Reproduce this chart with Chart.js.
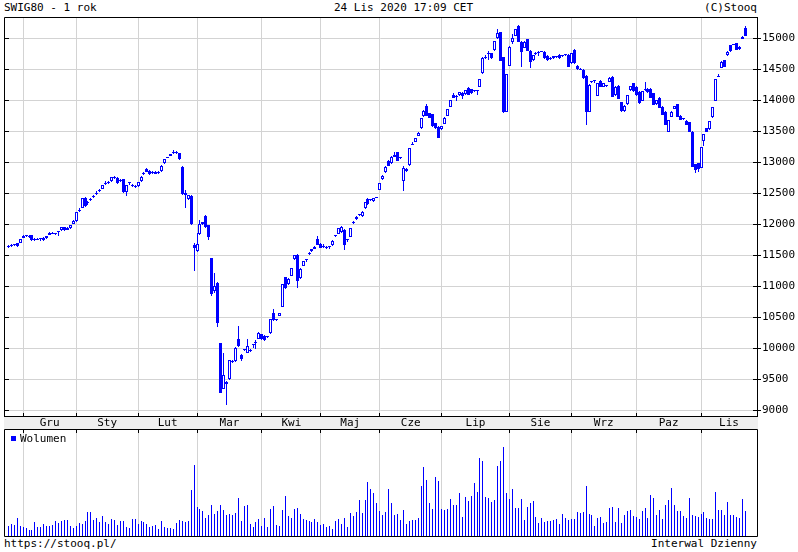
<!DOCTYPE html>
<html>
<head>
<meta charset="utf-8">
<title>SWIG80 - 1 rok</title>
<script src="https://cdn.jsdelivr.net/npm/chart.js@4.4.1/dist/chart.umd.min.js"></script>
<style>
  html, body { margin: 0; padding: 0; background: #fff; }
  body { width: 798px; height: 552px; position: relative; overflow: hidden;
         font: 11px "DejaVu Sans Mono", monospace; color: #000; }
  .txt { position: absolute; white-space: pre; line-height: 13px; }
  canvas { position: absolute; left: 0; }
  .sq { position: absolute; left: 11px; top: 436px; width: 5px; height: 5px; background: #0000ff; }
</style>
</head>
<body>
<div class="txt" style="left:4px; top:1px">SWIG80 - 1 rok</div>
<div class="txt" style="left:334px; top:1px">24 Lis 2020 17:09 CET</div>
<div class="txt" style="right:41px; top:1px">(C)Stooq</div>
<canvas id="price" width="798" height="429" style="top:0"></canvas>
<canvas id="volume" width="798" height="108" style="top:429px"></canvas>
<div class="sq"></div>
<div class="txt" style="left:20px; top:432px">Wolumen</div>
<div class="txt" style="left:4px; top:537px">https://stooq.pl/</div>
<div class="txt" style="right:41px; top:537px">Interwal Dzienny</div>

<script>
// daily sessions 25 Nov 2019 .. 24 Nov 2020, index 0..250
const monthLabels = ['Gru', 'Sty', 'Lut', 'Mar', 'Kwi', 'Maj', 'Cze', 'Lip', 'Sie', 'Wrz', 'Paz', 'Lis'];
const monthStarts = [5, 23, 44, 64, 86, 106, 126, 147, 170, 191, 213, 235]; // first session of each month
const priceTicks = [9000, 9500, 10000, 10500, 11000, 11500, 12000, 12500, 13000, 13500, 14000, 14500, 15000];

const opens = [
  11640, 11655, 11668, 11695, 11705,
  11790, 11815, 11805, 11828, 11770, 11765, 11760, 11778, 11782, 11835, 11860, 11852, 11875, 11905, 11957, 11915, 11945, 12012,
  12054, 12225, 12270, 12435, 12340, 12395, 12440, 12495, 12535, 12580, 12660, 12670, 12700, 12760, 12745, 12700, 12726, 12525, 12665, 12630, 12612,
  12615, 12695, 12815, 12900, 12866, 12840, 12848, 12830, 12858, 12985, 13075, 13108, 13150, 13175, 13151, 12930, 12510, 12414, 12465, 11665,
  11570, 11840, 12000, 12145, 11984, 11452, 10925, 11060, 10081, 9350, 9460, 9500, 9790, 9796, 10145, 9903, 9975, 9930, 9960, 10050, 10090, 10156,
  10228, 10206, 10185, 10244, 10577, 10455, 10529, 10674, 11147, 11035, 11174, 11440, 11508, 11130, 11335, 11420, 11530, 11565, 11642, 11766,
  11685, 11660, 11630, 11630, 11669, 11810, 11852, 11880, 11911, 11750, 11803, 12030, 12088, 12150, 12131, 12260, 12411, 12390, 12379, 12430,
  12556, 12734, 12841, 13029, 12986, 13120, 13164, 13075, 12706, 12895, 12959, 13290, 13336, 13432, 13551, 13750, 13917, 13793, 13782, 13631, 13578,
  13535, 13626, 13755, 13900, 14089, 14050, 14090, 14120, 14105, 14207, 14180, 14148, 14155, 14223, 14438, 14690, 14755, 14761, 14814, 15003, 15099, 14696, 13820,
  14562, 14938, 15046, 15202, 14949, 14852, 14987, 14798, 14653, 14750, 14770, 14790, 14788, 14720, 14675, 14680, 14705, 14734, 14715, 14730, 14734,
  14600, 14814, 14560, 14505, 14500, 14400, 13820, 14295, 14310, 14072, 14315, 14223, 14230, 14303, 14384, 14089, 14239, 13970, 13830, 13938, 14169, 14277,
  14223, 14142, 13992, 14165, 14190, 14190, 14115, 13938, 14046, 13900, 13820, 13497, 13739, 13863, 13938, 13750, 13700, 13669, 13648, 13497, 12970, 12986,
  12916, 13346, 13551, 13540, 13728, 13997, 14380, 14529, 14653, 14734, 14895, 14900, 14922, 14830, 14992, 15175
];
const highs = [
  11670, 11685, 11690, 11705, 11765,
  11830, 11832, 11830, 11838, 11790, 11785, 11785, 11792, 11815, 11875, 11872, 11868, 11895, 11962, 11965, 11955, 11990, 12065,
  12205, 12260, 12430, 12450, 12380, 12425, 12470, 12540, 12565, 12640, 12700, 12700, 12770, 12775, 12760, 12735, 12740, 12640, 12690, 12650, 12640,
  12685, 12775, 12840, 12915, 12880, 12860, 12860, 12855, 12955, 13060, 13095, 13140, 13205, 13185, 13160, 12940, 12560, 12480, 12475, 11700,
  11870, 12080, 12045, 12150, 11990, 11460, 11220, 11070, 10090, 9930, 9480, 9812, 9810, 10020, 10360, 9915, 9995, 10145, 9990, 10065, 10140, 10260,
  10240, 10220, 10205, 10480, 10637, 10475, 10575, 11040, 11160, 11130, 11300, 11510, 11520, 11300, 11415, 11450, 11560, 11610, 11660, 11819,
  11700, 11680, 11650, 11650, 11745, 11830, 11945, 11970, 11925, 11770, 11945, 12050, 12130, 12170, 12212, 12362, 12420, 12410, 12425, 12450,
  12670, 12800, 12940, 13040, 13100, 13175, 13175, 13090, 12940, 12905, 13235, 13330, 13395, 13485, 13715, 13840, 13945, 13805, 13790, 13640, 13590,
  13595, 13728, 13862, 14008, 14120, 14090, 14135, 14130, 14175, 14215, 14190, 14170, 14170, 14352, 14695, 14730, 14800, 14770, 14965, 15148, 15110, 14705, 14430,
  14875, 15067, 15155, 15215, 14960, 14955, 15000, 14810, 14740, 14780, 14800, 14805, 14800, 14730, 14700, 14720, 14725, 14745, 14740, 14750, 14745,
  14770, 14835, 14575, 14525, 14510, 14410, 14265, 14320, 14330, 14285, 14330, 14285, 14250, 14372, 14395, 14230, 14248, 13980, 13920, 14095, 14240, 14290,
  14230, 14150, 14160, 14300, 14200, 14200, 14125, 14015, 14055, 13910, 13830, 13692, 13828, 13918, 13945, 13760, 13720, 13680, 13655, 13505, 12980, 12995,
  13250, 13460, 13560, 13675, 13895, 14345, 14430, 14630, 14660, 14795, 14900, 14915, 14930, 14875, 15035, 15195
];
const lows = [
  11625, 11640, 11650, 11645, 11695,
  11780, 11795, 11790, 11740, 11735, 11745, 11740, 11735, 11770, 11825, 11840, 11835, 11815, 11895, 11895, 11905, 11935, 12005,
  12045, 12205, 12260, 12280, 12320, 12380, 12425, 12480, 12520, 12570, 12645, 12660, 12690, 12740, 12660, 12690, 12515, 12465, 12640, 12605, 12595,
  12605, 12685, 12800, 12840, 12805, 12815, 12810, 12820, 12850, 12975, 13065, 13100, 13145, 13140, 13045, 12480, 12270, 12400, 11990, 11250,
  11560, 11830, 11990, 11950, 11747, 10850, 10900, 10344, 9280, 9340, 9086, 9490, 9760, 9785, 10030, 9800, 9960, 9920, 9950, 10000, 9990, 10150,
  10140, 10125, 10170, 10235, 10450, 10440, 10520, 10665, 10960, 11025, 11165, 11430, 10981, 11120, 11325, 11400, 11500, 11555, 11600, 11665,
  11615, 11620, 11605, 11610, 11660, 11800, 11845, 11870, 11588, 11720, 11795, 12010, 12080, 12135, 12125, 12255, 12320, 12380, 12370, 12420,
  12550, 12725, 12835, 12940, 12980, 13085, 13020, 13060, 12540, 12850, 12950, 13280, 13325, 13425, 13540, 13740, 13745, 13715, 13580, 13545, 13395,
  13525, 13615, 13745, 13890, 14040, 14000, 14080, 14020, 14095, 14085, 14110, 14130, 14090, 14215, 14430, 14670, 14650, 14670, 14805, 14995, 14635, 13800, 13810,
  14555, 14906, 15040, 14940, 14535, 14845, 14795, 14519, 14645, 14740, 14720, 14775, 14670, 14640, 14660, 14670, 14690, 14670, 14700, 14715, 14540,
  14590, 14595, 14500, 14490, 14350, 13610, 13810, 14280, 14290, 14065, 14215, 14215, 14220, 14295, 14055, 14080, 14018, 13820, 13820, 13930, 14160, 14145,
  14080, 13945, 13985, 14150, 14120, 14040, 13920, 13930, 13875, 13760, 13598, 13490, 13730, 13855, 13732, 13685, 13680, 13598, 13490, 12925, 12825, 12840,
  12905, 13260, 13490, 13530, 13720, 13990, 14375, 14520, 14540, 14725, 14790, 14895, 14810, 14820, 14985, 15040
];
const closes = [
  11655, 11668, 11675, 11655, 11760,
  11822, 11808, 11818, 11748, 11755, 11752, 11768, 11750, 11810, 11868, 11850, 11845, 11885, 11957, 11905, 11945, 11984, 12059,
  12199, 12235, 12425, 12295, 12365, 12410, 12455, 12505, 12548, 12635, 12672, 12685, 12765, 12750, 12668, 12720, 12525, 12634, 12675, 12620, 12618,
  12678, 12769, 12825, 12848, 12812, 12830, 12815, 12840, 12947, 13054, 13085, 13135, 13175, 13150, 13054, 12484, 12480, 12468, 12011, 11620,
  11690, 12016, 12038, 11963, 11801, 10871, 11006, 10414, 9285, 9565, 9420, 9807, 9775, 10011, 10040, 9823, 9984, 10040, 9972, 10055, 10095, 10253,
  10153, 10136, 10190, 10470, 10459, 10462, 10567, 11034, 10970, 11120, 11292, 11500, 11093, 11290, 11410, 11427, 11534, 11600, 11610, 11669,
  11625, 11635, 11620, 11640, 11739, 11822, 11938, 11962, 11669, 11755, 11938, 12040, 12126, 12155, 12207, 12357, 12330, 12400, 12422, 12440,
  12664, 12787, 12932, 12949, 13094, 13090, 13029, 13080, 12906, 12860, 13228, 13295, 13390, 13481, 13712, 13836, 13750, 13723, 13588, 13551, 13400,
  13588, 13723, 13857, 14002, 14046, 14055, 14130, 14080, 14169, 14089, 14120, 14155, 14160, 14347, 14691, 14698, 14762, 14680, 14960, 15083, 14642, 13820, 14422,
  14868, 15013, 15148, 14949, 14777, 14949, 14804, 14626, 14734, 14765, 14772, 14795, 14680, 14650, 14685, 14712, 14710, 14680, 14725, 14740, 14546,
  14760, 14600, 14510, 14500, 14360, 13820, 14250, 14305, 14318, 14277, 14223, 14277, 14245, 14368, 14062, 14223, 14024, 13830, 13916, 14089, 14234, 14153,
  14089, 13954, 14153, 14175, 14130, 14046, 13927, 14008, 13884, 13766, 13605, 13685, 13820, 13911, 13739, 13690, 13705, 13605, 13497, 12932, 12879, 12895,
  13244, 13454, 13497, 13669, 13890, 14341, 14395, 14626, 14546, 14788, 14798, 14906, 14814, 14870, 15030, 15046
];
const volumes = [
  29, 35, 33, 53, 31,
  26, 23, 17, 18, 41, 26, 26, 35, 31, 31, 32, 44, 39, 45, 47, 47, 29, 23,
  31, 39, 37, 44, 71, 71, 47, 54, 42, 61, 42, 35, 52, 47, 33, 44, 44, 26, 23, 52, 50,
  35, 44, 41, 35, 26, 29, 33, 22, 44, 26, 23, 23, 22, 38, 47, 45, 41, 44, 137, 212,
  86, 80, 74, 53, 62, 92, 65, 74, 92, 77, 62, 66, 62, 68, 113, 45, 90, 92, 35, 26, 41, 51,
  31, 53, 26, 80, 89, 32, 29, 77, 119, 59, 54, 80, 83, 66, 50, 48, 45, 42, 50, 42,
  34, 35, 26, 29, 21, 44, 50, 35, 54, 26, 69, 59, 72, 107, 68, 107, 162, 140, 128, 99,
  74, 64, 71, 140, 98, 62, 66, 47, 77, 35, 45, 47, 47, 53, 149, 206, 167, 98, 81, 176, 164,
  80, 77, 80, 110, 92, 92, 128, 57, 116, 104, 119, 158, 131, 233, 224, 116, 113, 101, 107, 209, 224, 266, 128,
  110, 140, 83, 83, 110, 47, 86, 98, 104, 56, 38, 53, 41, 44, 44, 47, 50, 35, 65, 53, 47,
  50, 50, 71, 68, 71, 149, 67, 62, 29, 53, 56, 38, 41, 83, 86, 41, 83, 38, 62, 74, 77, 59,
  57, 50, 74, 83, 53, 122, 113, 62, 77, 50, 92, 107, 143, 92, 74, 74, 59, 53, 113, 62, 59, 56,
  65, 71, 53, 50, 50, 131, 77, 77, 62, 101, 62, 62, 56, 53, 110, 74
];

const X_MIN = -1.5, X_MAX = 254;
const BLUE = '#0000ff';
const GRID = '#d3d3d3';
const FONT = { family: 'DejaVu Sans Mono', size: 11 };

Chart.defaults.font.family = FONT.family;
Chart.defaults.font.size = FONT.size;
Chart.defaults.color = '#000';

const idx = closes.map((_, i) => i);
const wicks = idx.map(i => ({ x: i, y: [lows[i], highs[i]] }));
const bodies = idx.map(i => ({ x: i, y: [opens[i], closes[i]] }));
const bodyFill = idx.map(i => closes[i] >= opens[i] ? '#ffffff' : BLUE);

// month names sit halfway between month gridlines
const labelPos = monthStarts.map((s, k) => (s + (k + 1 < monthStarts.length ? monthStarts[k + 1] : X_MAX)) / 2);

function alignPx(v) { return Math.round(v - 0.5) + 0.5; }

// snap bar elements to whole pixels so candles stay crisp like the original
const snapBars = {
  id: 'snapBars',
  beforeDatasetsDraw(chart) {
    chart.data.datasets.forEach((ds, d) => {
      chart.getDatasetMeta(d).data.forEach(el => {
        el.x = alignPx(el.x);
        el.y = Math.round(el.y);
        el.base = Math.round(el.base);
        if (el.y === el.base) el.base = el.y + 1;
      });
    });
  }
};

const priceFrame = {
  id: 'priceFrame',
  beforeDraw(chart) {
    const { ctx, chartArea: a } = chart;
    ctx.save();
    ctx.fillStyle = '#efefef';
    ctx.fillRect(a.left, a.bottom, a.right - a.left + 1, 13);
    ctx.restore();
  },
  afterDraw(chart) {
    const { ctx, chartArea: a, scales } = chart;
    ctx.save();
    ctx.strokeStyle = '#000';
    ctx.lineWidth = 1;
    ctx.beginPath();
    ctx.rect(a.left + 0.5, a.top + 0.5, a.right - a.left, a.bottom - a.top);
    priceTicks.forEach(v => {
      const y = alignPx(scales.y.getPixelForValue(v));
      ctx.moveTo(a.left, y); ctx.lineTo(a.left + 5, y);
      ctx.moveTo(a.right - 4, y); ctx.lineTo(a.right, y);
    });
    monthStarts.forEach(b => {
      const x = alignPx(scales.x.getPixelForValue(b));
      ctx.moveTo(x, a.bottom - 3); ctx.lineTo(x, a.bottom);
    });
    ctx.stroke();
    ctx.restore();
  }
};

const volumeFrame = {
  id: 'volumeFrame',
  afterDraw(chart) {
    const { ctx, chartArea: a, scales } = chart;
    ctx.save();
    ctx.strokeStyle = '#000';
    ctx.lineWidth = 1;
    ctx.beginPath();
    ctx.rect(a.left + 0.5, a.top + 0.5, a.right - a.left, a.bottom - a.top);
    monthStarts.forEach(b => {
      const x = alignPx(scales.x.getPixelForValue(b));
      ctx.moveTo(x, a.top); ctx.lineTo(x, a.top + 4);
    });
    ctx.stroke();
    ctx.restore();
  }
};

new Chart(document.getElementById('price'), {
  type: 'bar',
  data: {
    datasets: [
      { data: bodies, backgroundColor: bodyFill, borderColor: BLUE, borderWidth: 1, borderSkipped: false,
        barThickness: 3, minBarLength: 1, inflateAmount: 0, grouped: false, order: 0 },
      { data: wicks, backgroundColor: BLUE, borderWidth: 0, barThickness: 1, inflateAmount: 0, grouped: false, order: 1 }
    ]
  },
  options: {
    responsive: false,
    animation: false,
    devicePixelRatio: 1,
    events: [],
    layout: { padding: { left: 4, top: 17, right: 0, bottom: 0 } },
    plugins: { legend: { display: false }, tooltip: { enabled: false } },
    scales: {
      x: {
        type: 'linear', min: X_MIN, max: X_MAX, offset: false,
        afterBuildTicks: s => { s.ticks = monthStarts.concat(labelPos).sort((a, b) => a - b).map(v => ({ value: v })); },
        afterFit: s => { s.height = 13; },
        grid: { offset: false, drawTicks: false, color: c => monthStarts.includes(c.tick && c.tick.value) ? GRID : 'rgba(0,0,0,0)' },
        border: { display: true, color: '#000' },
        ticks: {
          autoSkip: false, maxRotation: 0, padding: 1, color: '#000', font: FONT,
          callback: v => { const k = labelPos.indexOf(v); return k >= 0 ? monthLabels[k] : ''; }
        }
      },
      y: {
        position: 'right', min: 8911, max: 15347,
        afterBuildTicks: s => { s.ticks = priceTicks.map(v => ({ value: v })); },
        afterFit: s => { s.width = 41; },
        grid: { color: GRID, tickColor: '#000', tickLength: 4 },
        border: { display: true, color: '#000' },
        ticks: { padding: 1, color: '#000', font: FONT, callback: v => String(v) }
      }
    }
  },
  plugins: [snapBars, priceFrame]
});

new Chart(document.getElementById('volume'), {
  type: 'bar',
  data: {
    datasets: [
      { label: 'Wolumen', data: idx.map(i => ({ x: i, y: volumes[i] })), backgroundColor: BLUE,
        barThickness: 1, inflateAmount: 0 }
    ]
  },
  options: {
    responsive: false,
    animation: false,
    devicePixelRatio: 1,
    events: [],
    layout: { padding: { left: 4, top: 0, right: 41, bottom: 1 } },
    plugins: { legend: { display: false }, tooltip: { enabled: false } },
    scales: {
      x: {
        type: 'linear', position: 'top', min: X_MIN, max: X_MAX, offset: false,
        afterBuildTicks: s => { s.ticks = monthStarts.map(v => ({ value: v })); },
        afterFit: s => { s.height = 0; },
        grid: { offset: false, drawTicks: false, color: GRID },
        border: { display: false },
        ticks: { display: false }
      },
      y: { display: false, min: 0, max: 321 }
    }
  },
  plugins: [snapBars, volumeFrame]
});
</script>
</body>
</html>
